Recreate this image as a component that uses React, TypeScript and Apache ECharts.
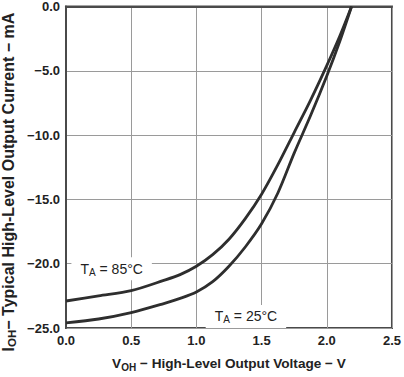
import React, { useEffect, useRef } from "react";
import * as echarts from "echarts";

const voltage = [0, 0.25, 0.5, 0.75, 0.875, 1.0, 1.125, 1.25, 1.375, 1.5, 1.625, 1.75, 1.875, 2.0, 2.1, 2.19];
const current85 = [-22.9, -22.5, -22.1, -21.3, -20.85, -20.2, -19.3, -18.1, -16.5, -14.6, -12.3, -9.8, -7.3, -4.6, -2.3, 0];
const current25 = [-24.6, -24.3, -23.8, -23.1, -22.7, -22.2, -21.4, -20.2, -18.7, -16.9, -14.5, -11.4, -8.5, -5.4, -2.7, 0];
const label85 = { text: "85°C", at: [0.35, -20.4] };
const label25 = { text: "25°C", at: [1.38, -24.1] };

const FONT = "'Liberation Sans', Arial, Helvetica, sans-serif";
const LINE = "#2e2e2e";

const fmt = (v: number) => (v < 0 ? "\u2212" + Math.abs(v).toFixed(1) : v.toFixed(1));

const tempLabel = (t: string) => ({
  show: true,
  formatter: `{t|T}{s|A}{t| = ${t}}`,
  backgroundColor: "#fff",
  padding: [3, 9, 3, 9],
  rich: {
    t: { fontSize: 14, fontFamily: FONT, color: "#222" },
    s: { fontSize: 10, fontFamily: FONT, color: "#222", padding: [7, 0, 0, 0] },
  },
});

export default function App() {
  const ref = useRef<HTMLDivElement>(null);
  useEffect(() => {
    if (!ref.current) return;
    const chart = echarts.init(ref.current, undefined, { renderer: "svg" });
    const mk = (xs: number[], ys: number[]) => xs.map((x, i) => [x, ys[i]]);
    chart.setOption({
      animation: false,
      grid: {
        left: 66,
        right: 9,
        top: 5,
        bottom: 43,
        show: true,
        borderColor: "#4a4a4a",
        borderWidth: 2,
        backgroundColor: "#fff",
      },
      xAxis: {
        type: "value",
        min: 0,
        max: 2.5,
        interval: 0.5,
        axisLine: { show: true, lineStyle: { color: "#4a4a4a", width: 2 } },
        axisTick: { show: false },
        splitLine: { show: true, lineStyle: { color: "#9a9a9a", width: 1 } },
        axisLabel: {
          formatter: fmt,
          fontFamily: FONT,
          fontSize: 13,
          fontWeight: "bold",
          color: "#222",
          margin: 6,
        },
        name: "{m|V}{s|OH}{m| \u2212 High-Level Output Voltage \u2212 V}",
        nameLocation: "middle",
        nameGap: 27,
        nameTextStyle: {
          rich: {
            m: { fontSize: 13.6, fontFamily: FONT, fontWeight: "bold", color: "#222" },
            s: { fontSize: 10, fontFamily: FONT, fontWeight: "bold", color: "#222", padding: [7, 0, 0, 0] },
          },
        },
      },
      yAxis: {
        type: "value",
        min: -25,
        max: 0,
        interval: 5,
        axisLine: { show: true, lineStyle: { color: "#4a4a4a", width: 2 } },
        axisTick: { show: false },
        splitLine: { show: true, lineStyle: { color: "#9a9a9a", width: 1 } },
        axisLabel: {
          formatter: fmt,
          fontFamily: FONT,
          fontSize: 13,
          fontWeight: "bold",
          color: "#222",
          margin: 6,
        },
      },
      graphic: [
        {
          type: "text",
          x: 8,
          y: 182,
          rotation: Math.PI / 2,
          style: {
            text: "{m|I}{s|OH}{m|\u2212 Typical High-Level Output Current \u2212 mA}",
            align: "center",
            verticalAlign: "middle",
            rich: {
              m: { fontSize: 16, fontFamily: FONT, fontWeight: "bold", fill: "#222" },
              s: { fontSize: 11.5, fontFamily: FONT, fontWeight: "bold", fill: "#222", padding: [8, 0, 0, 0] },
            },
          },
        },
      ],
      series: [
        {
          type: "line",
          data: mk(voltage, current85),
          smooth: 0.3,
          symbol: "none",
          lineStyle: { color: LINE, width: 2.8 },
          markPoint: {
            symbol: "circle",
            symbolSize: 0,
            data: [{ coord: label85.at }],
            label: tempLabel(label85.text),
          },
        },
        {
          type: "line",
          data: mk(voltage, current25),
          smooth: 0.3,
          symbol: "none",
          lineStyle: { color: LINE, width: 2.8 },
          markPoint: {
            symbol: "circle",
            symbolSize: 0,
            data: [{ coord: label25.at }],
            label: tempLabel(label25.text),
          },
        },
      ],
    });
    return () => chart.dispose();
  }, []);
  return <div ref={ref} style={{ width: 404, height: 377, position: "absolute", left: 0, top: 0 }} />;
}
